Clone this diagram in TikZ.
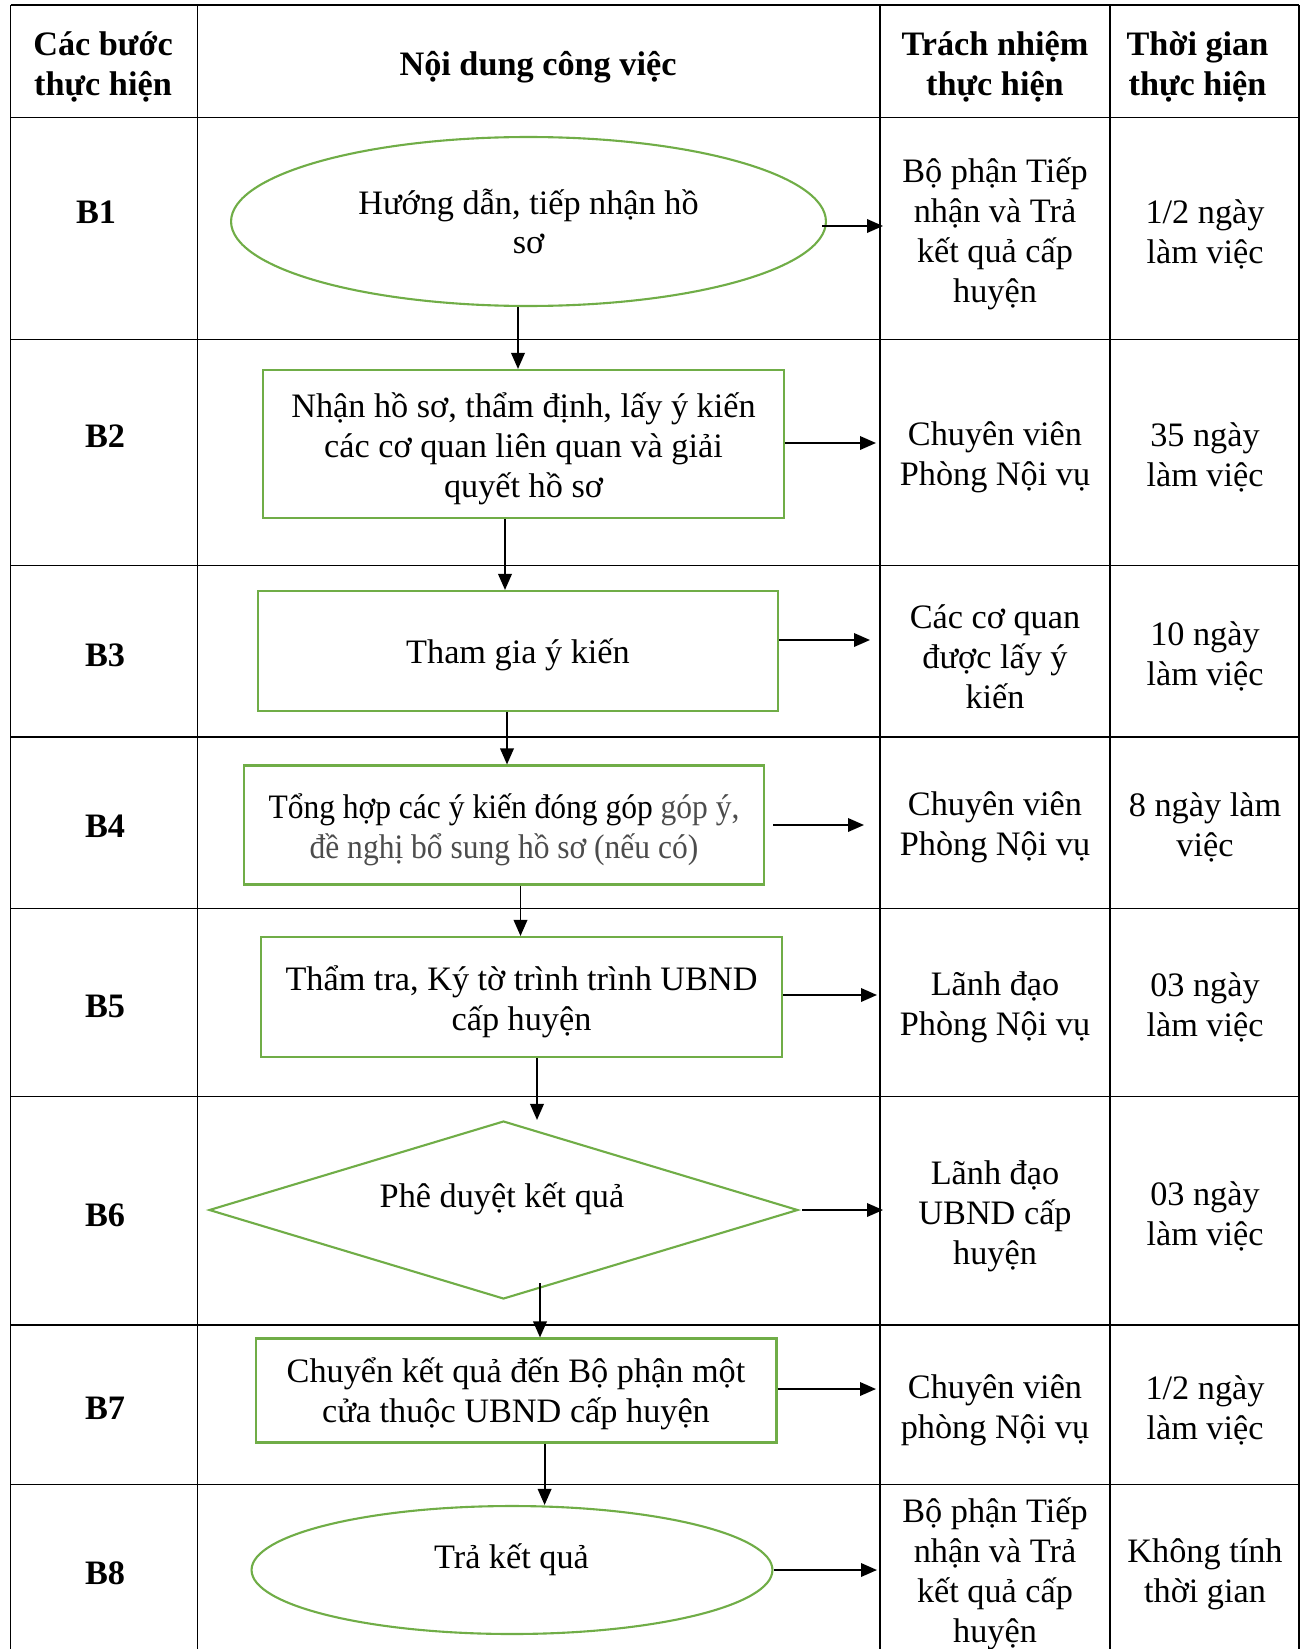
\documentclass[tikz,border=0pt]{standalone}
\usepackage{fontspec}
\setmainfont{Liberation Serif}
\newfontfamily\condensedserif[FakeStretch=0.92]{Liberation Serif}
\usetikzlibrary{shapes.geometric, arrows.meta, positioning, calc}
\definecolor{leafgreen}{HTML}{70AD47}
\begin{document}
\begin{tikzpicture}[
        x=0.02cm, y=-0.02cm,
        font=\fontsize{19.5}{22.7}\selectfont,
        grid/.style={line width=0.7pt},
        cell/.style={align=center, inner sep=0pt},
        head/.style={cell, font=\fontsize{19.5}{22.7}\selectfont\bfseries},
        oval/.style={draw=leafgreen, line width=1.2pt, ellipse, inner sep=0pt},
        stepbox/.style={draw=leafgreen, line width=1.2pt, rectangle, inner sep=0pt, minimum width=10.42cm},
        decision/.style={draw=leafgreen, line width=1.2pt, diamond, inner sep=0pt},
        flow/.style={-{Triangle[length=0.32cm, width=0.27cm]}, line width=1.1pt}
    ]
    \useasboundingbox (0,0) rectangle (1310,1649);

    \foreach \y in {5,117.5,339.5,565.5,737,908.5,1096.5,1325,1484.5}
        \draw[grid] (10.5,\y) -- (1299,\y);
    \foreach \x in {10.5,197.5,880,1110,1299}
        \draw[grid] (\x,5) -- (\x,1649);

    \node[head] (hbuoc) at (103,67) {Các bước\\thực hiện};
    \node[head] (hnoidung) at (538,67) {Nội dung công việc};
    \node[head] (htrach) at (995,67) {Trách nhiệm\\thực hiện};
    \node[head] (hthoigian) at (1197.5,67) {Thời gian\\thực hiện};

    \node[head] (buoc1) at (96,212) {B1};
    \node[head] (buoc2) at (105,436) {B2};
    \node[head] (buoc3) at (105,655) {B3};
    \node[head] (buoc4) at (105,826) {B4};
    \node[head] (buoc5) at (105,1006) {B5};
    \node[head] (buoc6) at (105,1215) {B6};
    \node[head] (buoc7) at (105,1408) {B7};
    \node[head] (buoc8) at (105,1573) {B8};

    \node[oval, minimum width=11.9cm, minimum height=3.38cm] (s1) at (528.5,221.5) {};
    \node[cell] (t1) at (528.5,221.5) {Hướng dẫn, tiếp nhận hồ\\sơ};
    \node[stepbox, minimum height=2.96cm] (s2) at (523.5,444) {};
    \node[cell] (t2) at (523.5,449) {Nhận hồ sơ, thẩm định, lấy ý kiến\\các cơ quan liên quan và giải\\quyết hồ sơ};
    \node[stepbox, minimum width=10.4cm, minimum height=2.4cm] (s3) at (518,651) {};
    \node[cell] (t3) at (518,655) {Tham gia ý kiến};
    \node[stepbox, minimum width=10.4cm, minimum height=2.38cm] (s4) at (504,825) {};
    \node[cell] (t4) at (504,830) {\condensedserif Tổng hợp các ý kiến đóng góp \textcolor{black!70}{góp ý,}\\\condensedserif\color{black!70}đề nghị bổ sung hồ sơ (nếu có)};
    \node[stepbox, minimum height=2.4cm] (s5) at (521.5,997) {};
    \node[cell] (t5) at (521.5,1002) {Thẩm tra, Ký tờ trình trình UBND\\cấp huyện};
    \node[decision, minimum width=11.78cm, minimum height=3.56cm] (s6) at (503.5,1210) {};
    \node[cell] (t6) at (502,1199) {Phê duyệt kết quả};
    \node[stepbox, minimum height=2.08cm] (s7) at (516,1390.5) {};
    \node[cell] (t7) at (516,1394) {Chuyển kết quả đến Bộ phận một\\cửa thuộc UBND cấp huyện};
    \node[oval, minimum width=10.42cm, minimum height=2.56cm] (s8) at (512,1570) {};
    \node[cell] (t8) at (511.5,1560) {Trả kết quả};

    \node[cell] (trach1) at (995,234) {Bộ phận Tiếp\\nhận và Trả\\kết quả cấp\\huyện};
    \node[cell] (trach2) at (995,457) {Chuyên viên\\Phòng Nội vụ};
    \node[cell] (trach3) at (995,657) {Các cơ quan\\được lấy ý\\kiến};
    \node[cell] (trach4) at (995,827) {Chuyên viên\\Phòng Nội vụ};
    \node[cell] (trach5) at (995,1007) {Lãnh đạo\\Phòng Nội vụ};
    \node[cell] (trach6) at (995,1216) {Lãnh đạo\\UBND cấp\\huyện};
    \node[cell] (trach7) at (995,1410) {Chuyên viên\\phòng Nội vụ};
    \node[cell] (trach8) at (995,1574) {Bộ phận Tiếp\\nhận và Trả\\kết quả cấp\\huyện};

    \node[cell] (tg1) at (1205,234) {1/2 ngày\\làm việc};
    \node[cell] (tg2) at (1205,457) {35 ngày\\làm việc};
    \node[cell] (tg3) at (1205,656) {10 ngày\\làm việc};
    \node[cell] (tg4) at (1205,827) {8 ngày làm\\việc};
    \node[cell] (tg5) at (1205,1007) {03 ngày\\làm việc};
    \node[cell] (tg6) at (1205,1216) {03 ngày\\làm việc};
    \node[cell] (tg7) at (1205,1410) {1/2 ngày\\làm việc};
    \node[cell] (tg8) at (1205,1574) {Không tính\\thời gian};

    \coordinate (k1) at (883,226);
    \coordinate (k2) at (876,443);
    \coordinate (k3) at (870,640);
    \coordinate (k4) at (864,825);
    \coordinate (k5) at (877,995);
    \coordinate (k6) at (883,1210);
    \coordinate (k7) at (876,1389);
    \coordinate (k8) at (877,1570);

    \draw[flow] ([xshift=-0.1cm]s1.east |- k1) -- (k1);
    \draw[flow] (s2.east |- k2) -- (k2);
    \draw[flow] (s3.east |- k3) -- (k3);
    \draw[flow] ([xshift=0.16cm]s4.east) -- (k4);
    \draw[flow] (s5.east |- k5) -- (k5);
    \draw[flow] ([xshift=0.06cm]s6.east) -- (k6);
    \draw[flow] (s7.east |- k7) -- (k7);
    \draw[flow] (s8.east) -- (k8);

    \coordinate (d12) at (518,0);
    \coordinate (d23) at (505,0);
    \coordinate (d34) at (507,0);
    \coordinate (d45) at (520.5,0);
    \coordinate (d56) at (537,0);
    \coordinate (d67) at (540,1283);
    \coordinate (d78) at (544.6,0);

    \draw[flow] (s1.south -| d12) -- (s2.north -| d12);
    \draw[flow] (s2.south -| d23) -- (s3.north -| d23);
    \draw[flow] (s3.south -| d34) -- (s4.north -| d34);
    \draw[flow] (s4.south -| d45) -- (s5.north -| d45);
    \draw[flow] (s5.south -| d56) -- (s6.north -| d56);
    \draw[flow] (d67) -- (s7.north -| d67);
    \draw[flow] (s7.south -| d78) -- (s8.north -| d78);

    \end{tikzpicture}
\end{document}
